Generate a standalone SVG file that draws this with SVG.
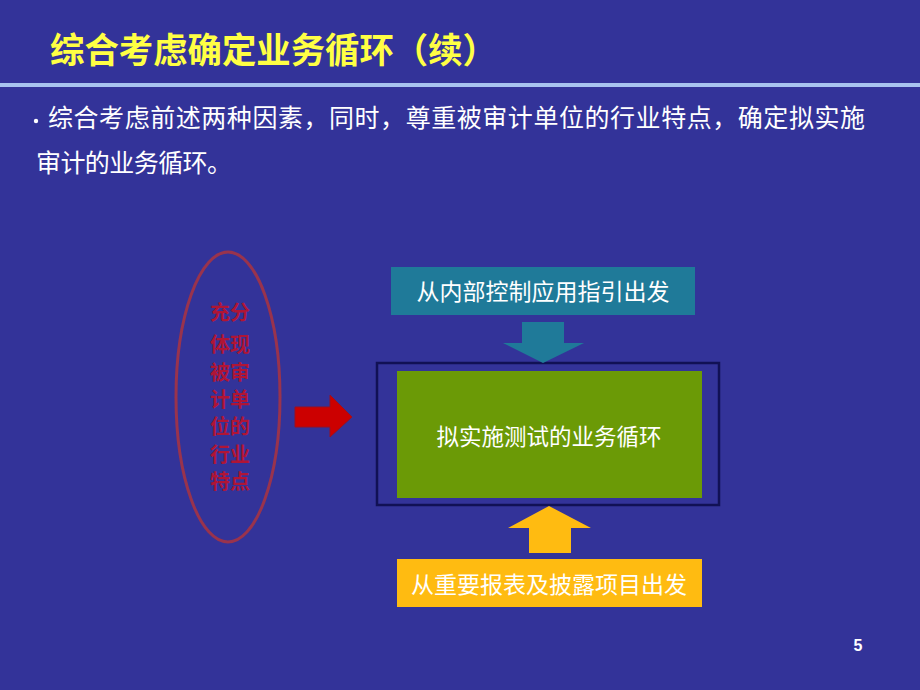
<svg xmlns="http://www.w3.org/2000/svg" width="920" height="690" viewBox="0 0 920 690">
<style>
.cjk{font-family:"Liberation Sans","Noto Sans CJK SC",sans-serif;}
.title{font-size:35px;font-weight:bold;fill:#ffff44;}
.body{font-size:25px;fill:#ffffff;}
.lbl{font-size:23px;fill:#ffffff;text-anchor:middle;}
.red{font-size:20px;font-weight:bold;fill:#b01535;text-anchor:middle;}
</style>
<rect x="0" y="0" width="920" height="690" fill="#333399"/>
<g id="title">
<text class="cjk title" x="50" y="63" textLength="447" lengthAdjust="spacingAndGlyphs">综合考虑确定业务循环（续）</text>
<rect x="0" y="83" width="920" height="4" fill="#a8c4f0"/>
</g>
<g id="bullet">
<circle cx="36" cy="121" r="2.2" fill="#ffffff"/>
<text class="cjk body" x="48" y="127" textLength="817" lengthAdjust="spacing">综合考虑前述两种因素，同时，尊重被审计单位的行业特点，确定拟实施</text>
<text class="cjk body" x="36" y="172" textLength="196" lengthAdjust="spacing">审计的业务循环。</text>
</g>
<g id="ellipse-node">
<ellipse cx="228" cy="397" rx="52" ry="145" fill="none" stroke="#99334d" stroke-width="3"/>
<text class="cjk red" x="230" y="320">充分</text>
<text class="cjk red" x="230" y="352">体现</text>
<text class="cjk red" x="230" y="380">被审</text>
<text class="cjk red" x="230" y="407">计单</text>
<text class="cjk red" x="230" y="434">位的</text>
<text class="cjk red" x="230" y="462">行业</text>
<text class="cjk red" x="230" y="489">特点</text>
</g>
<g id="top-box">
<rect x="391" y="267" width="304" height="48" fill="#1f7a99"/>
<text class="cjk lbl" x="543" y="300">从内部控制应用指引出发</text>
</g>
<g id="center-box">
<rect x="377" y="363" width="342" height="142" fill="none" stroke="#111155" stroke-width="2.5"/>
<rect x="397" y="371" width="305" height="127" fill="#6b9a06"/>
<text class="cjk lbl" x="549" y="445" style="font-size:22.5px">拟实施测试的业务循环</text>
</g>
<g id="bottom-box">
<rect x="397" y="559" width="305" height="48" fill="#ffbb11"/>
<text class="cjk lbl" x="549" y="593">从重要报表及披露项目出发</text>
</g>
<g id="connectors">
<polygon points="522,322 564,322 564,343 584,343 543,363 503,343 522,343" fill="#1f7a99"/>
<polygon points="529,553 571,553 571,528 591,528 549,506 508,528 529,528" fill="#ffbb11"/>
<polygon points="295,407 330,407 330,395 352,417 330,437 330,427 295,427" fill="#cc0000" stroke="#991122" stroke-width="1"/>
</g>
<g id="page">
<text x="858" y="651" style="font-family:'Liberation Sans',sans-serif;font-size:16px;font-weight:bold;fill:#ffffff;text-anchor:middle">5</text>
</g>
</svg>
